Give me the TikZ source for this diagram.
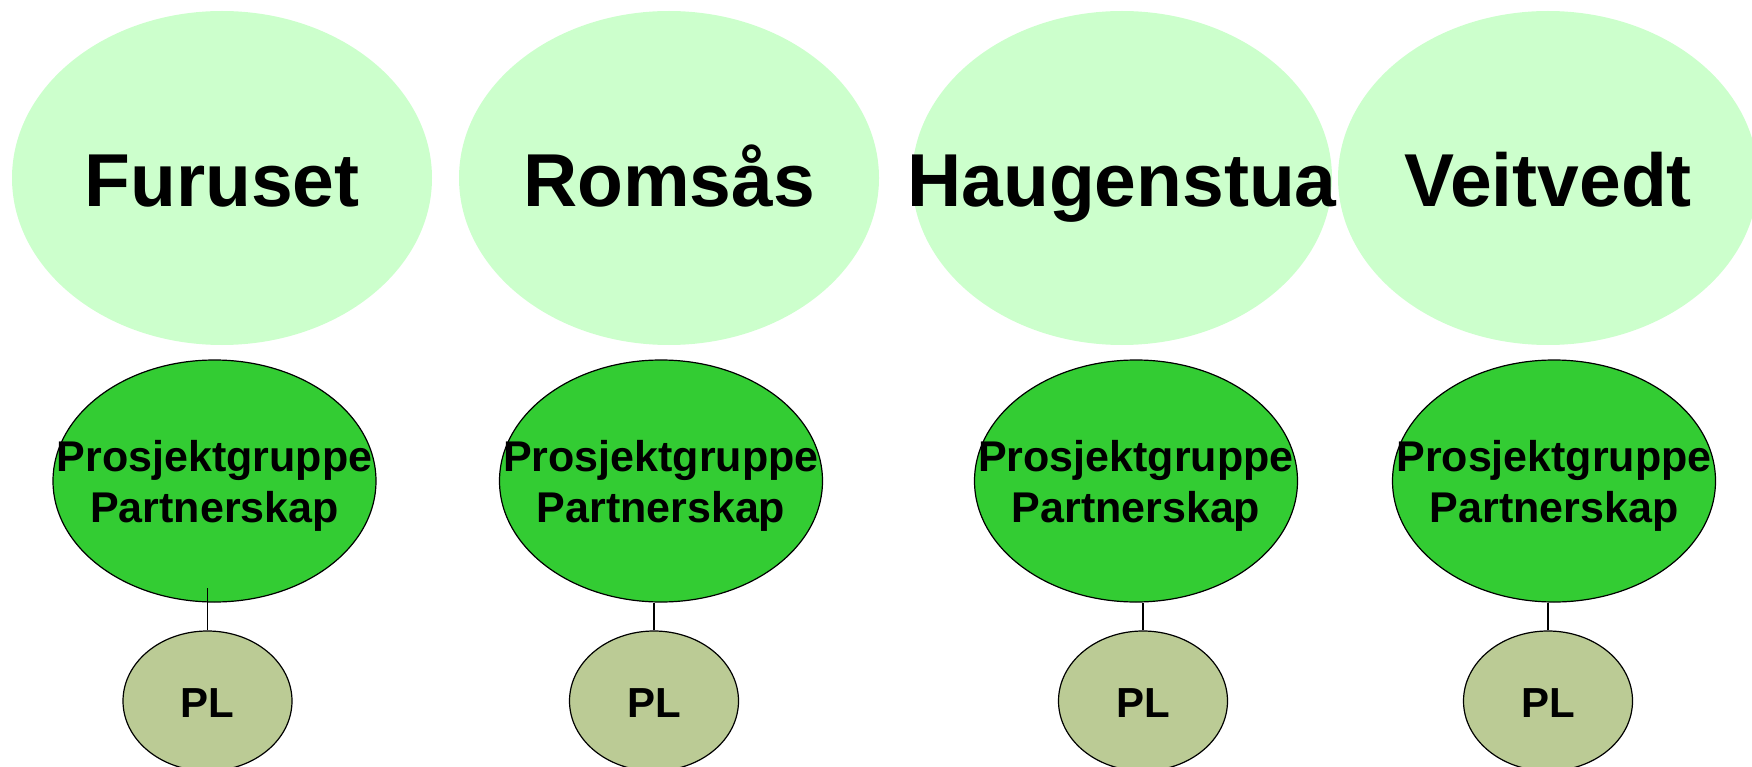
\documentclass[tikz,border=0pt]{standalone}
\usepackage{fontspec}
\setmainfont{Liberation Sans}
\usetikzlibrary{shapes.geometric}

\definecolor{areagreen}{HTML}{CCFFCC}
\definecolor{groupgreen}{HTML}{33CC33}
\definecolor{plolive}{HTML}{BBCB95}

\begin{document}
\begin{tikzpicture}[x=1pt, y=-1pt,
    areabox/.style={ellipse, fill=areagreen, minimum width=420pt, minimum height=334pt, inner sep=0pt},
    groupbox/.style={ellipse, draw, line width=1.2pt, fill=groupgreen, minimum width=323pt, minimum height=242pt, inner sep=0pt},
    plbox/.style={ellipse, draw, line width=1.2pt, fill=plolive, minimum width=169pt, minimum height=140pt, inner sep=0pt},
    areatext/.style={font=\bfseries\fontsize{75}{80}\selectfont, text height=54pt, text depth=0pt, inner sep=0pt},
    grouptext/.style={font=\bfseries\fontsize{43}{51}\selectfont, align=center, inner sep=0pt},
    pltext/.style={font=\bfseries\fontsize{42}{48}\selectfont, text height=30pt, text depth=0pt, inner sep=0pt}]
        \useasboundingbox (0,0) rectangle (1752,767);

        % Areas
        \node[areabox] (area1) at (222,178) {};
        \node[areabox] (area2) at (669,178) {};
        \node[areabox] (area3) at (1122,178) {};
        \node[areabox] (area4) at (1548,178) {};
        \node[areatext] (area1txt) at ([yshift=-2pt]area1) {Furuset};
        \node[areatext] (area2txt) at ([yshift=-2pt]area2) {Romsås};
        \node[areatext] (area3txt) at ([yshift=-2pt]area3) {Haugenstua};
        \node[areatext] (area4txt) at ([yshift=-2pt]area4) {Veitvedt};

        % Project groups
        \node[groupbox] (grp1) at (214.5,481) {};
        \node[groupbox] (grp2) at (661,481) {};
        \node[groupbox] (grp3) at (1136,481) {};
        \node[groupbox] (grp4) at (1554,481) {};
        \foreach \g in {grp1, grp2, grp3, grp4}
        \node[grouptext] (\g txt) at ([yshift=-4.5pt]\g) {Prosjektgruppe\\Partnerskap};

        % Project leaders
        \node[plbox] (pl1) at (207.5,701) {};
        \node[plbox] (pl2) at (654,701) {};
        \node[plbox] (pl3) at (1143,701) {};
        \node[plbox] (pl4) at (1548,701) {};
        \foreach \p in {pl1, pl2, pl3, pl4}
        \node[pltext] (\p txt) at ([yshift=-1pt]\p) {PL};

        % Links
        \foreach \p/\g/\o in {pl1/grp1/15, pl2/grp2/0, pl3/grp3/0, pl4/grp4/0}
        \draw[line width=1.2pt] (\p.north) -- (\p.north |- \g.south) -- ++(0,-\o);

\end{tikzpicture}
\end{document}
